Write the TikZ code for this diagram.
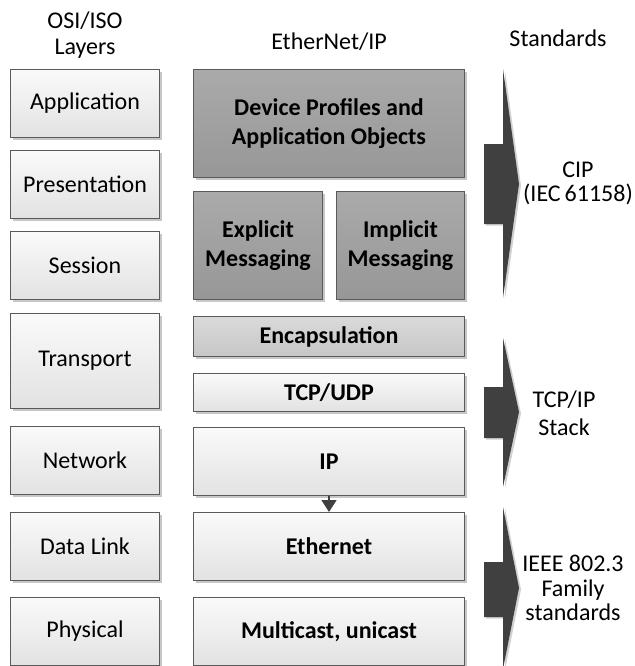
\documentclass[tikz,border=0pt]{standalone}
\usepackage{fontspec}
\setmainfont{Carlito}
\usetikzlibrary{shadows,arrows.meta}

\definecolor{edge}{HTML}{5A5A5A}
\definecolor{lightTop}{HTML}{FAFAFA}
\definecolor{lightBot}{HTML}{E2E2E2}
\definecolor{midTop}{HTML}{DADADA}
\definecolor{midBot}{HTML}{C6C6C6}
\definecolor{darkTop}{HTML}{AAAAAA}
\definecolor{darkBot}{HTML}{979797}
\definecolor{arrowfill}{HTML}{404040}

\begin{document}
\begin{tikzpicture}[x=1pt,y=-1pt,
  txt/.style={font=\fontsize{24}{27}\selectfont, align=center, inner sep=0pt},
  layer/.style={draw=edge, line width=1pt, anchor=north west, inner sep=0pt,
    font=\fontsize{24}{27}\selectfont, align=center,
    drop shadow={shadow xshift=2.5pt, shadow yshift=-2.5pt, opacity=0.22, fill=black}},
  light/.style={layer, top color=lightTop, bottom color=lightBot},
  mid/.style={layer, top color=midTop, bottom color=midBot, font=\fontsize{24}{27}\selectfont\bfseries},
  dark/.style={layer, top color=darkTop, bottom color=darkBot, font=\fontsize{24}{29}\selectfont\bfseries},
  proto/.style={light, font=\fontsize{24}{27}\selectfont\bfseries},
  bigarrow/.style={fill=arrowfill, draw=none,
    drop shadow={shadow xshift=2pt, shadow yshift=-1.5pt, opacity=0.18, fill=black}},
]
\useasboundingbox (0,0) rectangle (634,666);

% column headings
\node[txt, font=\fontsize{24}{26}\selectfont] (hOsi) at (85,35) {OSI/ISO\\Layers};
\node[txt] (hEip) at (329,42) {EtherNet/IP};
\node[txt] (hStd) at (558,38) {Standards};

% OSI/ISO reference layers
\node[light, minimum width=149pt, minimum height=68pt] (lApp)  at (10,69)  {Application};
\node[light, minimum width=149pt, minimum height=68pt] (lPres) at (10,150) {Presentation};
\node[light, minimum width=149pt, minimum height=68pt] (lSess) at (10,231) {Session};
\node[light, minimum width=149pt, minimum height=95pt] (lTran) at (10,313) {Transport};
\node[light, minimum width=149pt, minimum height=68pt] (lNet)  at (10,426) {Network};
\node[light, minimum width=149pt, minimum height=68pt] (lLink) at (10,512) {Data Link};
\node[light, minimum width=149pt, minimum height=68pt] (lPhys) at (10,597) {Physical};

% EtherNet/IP stack
\node[dark, minimum width=271pt, minimum height=108pt] (eDev) at (193,69) {Device Profiles and\\Application Objects};
\node[dark, minimum width=129pt, minimum height=108pt] (eExp) at (193,191) {Explicit\\Messaging};
\node[dark, minimum width=128pt, minimum height=108pt] (eImp) at (336,191) {Implicit\\Messaging};
\node[mid, minimum width=271pt, minimum height=40pt] (eEnc) at (193,316) {Encapsulation};
\node[proto, minimum width=271pt, minimum height=38pt] (eTcp) at (193,373) {TCP/UDP};
\node[proto, minimum width=271pt, minimum height=68pt] (eIp)  at (193,427) {IP};
\node[proto, minimum width=271pt, minimum height=68pt] (eEth) at (193,512) {Ethernet};
\node[proto, minimum width=271pt, minimum height=68pt] (eMul) at (193,597) {Multicast, unicast};

\draw[arrowfill, line width=1.5pt, -{Triangle[width=15pt,length=12pt]}] (eIp.south) -- (eEth.north);

% standards brackets
\fill[bigarrow] (484,144) -- (503,144) -- (503,69) -- (519,184) -- (503,298) -- (503,224) -- (484,224) -- cycle;
\fill[bigarrow] (484,387) -- (503,387) -- (503,338) -- (519,412) -- (503,487) -- (503,438) -- (484,438) -- cycle;
\fill[bigarrow] (484,562) -- (503,562) -- (503,507) -- (519,588) -- (503,669) -- (503,617) -- (484,617) -- cycle;

\node[txt, font=\fontsize{24}{24}\selectfont] (sCip) at (578,183) {CIP\\(IEC\,61158)};
\node[txt, font=\fontsize{24}{28}\selectfont] (sTcp) at (564,413) {TCP/IP\\Stack};
\node[txt, font=\fontsize{24}{24.5}\selectfont] (sIeee) at (573,588) {IEEE 802.3\\Family\\standards};
\end{tikzpicture}
\end{document}
